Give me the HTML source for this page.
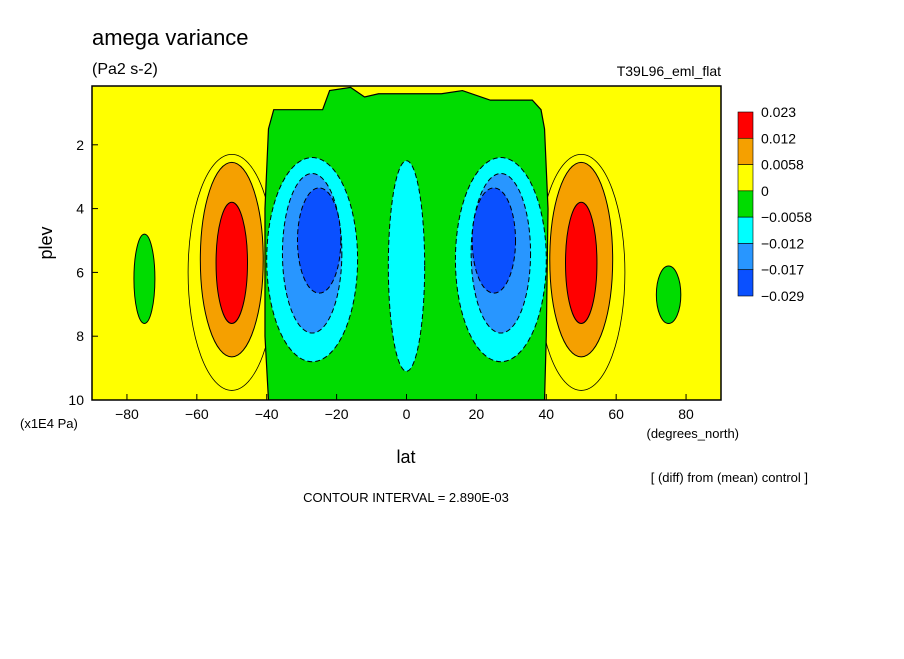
<!DOCTYPE html>
<html><head><meta charset="utf-8">
<style>
body{margin:0;background:#fff;}
svg text{font-family:"Liberation Sans",sans-serif;}
</style></head>
<body>
<svg id="chart" width="904" height="654" viewBox="0 0 904 654">
<defs><clipPath id="plotclip"><rect x="92" y="86" width="629" height="314"/></clipPath></defs>
<text x="92" y="45" font-size="22">amega variance</text>
<text x="92" y="74" font-size="16">(Pa2 s-2)</text>
<text x="721" y="76" font-size="14" text-anchor="end">T39L96_eml_flat</text>
<rect x="92" y="86" width="629" height="314" fill="#ffff00"/>
<g id="marks" clip-path="url(#plotclip)"></g>
<rect x="92" y="86" width="629" height="314" fill="none" stroke="#000" stroke-width="1.5"/>
<g id="axes"></g>
<text x="20" y="428" font-size="13">(x1E4 Pa)</text>
<text x="739" y="438" font-size="13" text-anchor="end">(degrees_north)</text>
<text x="406" y="463" font-size="18" text-anchor="middle">lat</text>
<text x="52" y="243" font-size="18" text-anchor="middle" transform="rotate(-90 52 243)">plev</text>
<text x="808" y="482" font-size="13" text-anchor="end">[ (diff) from (mean) control ]</text>
<text x="406" y="502" font-size="13" text-anchor="middle">CONTOUR INTERVAL = 2.890E-03</text>
<g id="legend"></g>
</svg>
<script>
const NS="http://www.w3.org/2000/svg";
const levelColors=["#ff0000","#f5a000","#ffff00","#00dc00","#00ffff","#2896ff","#0a50ff"];
const legendLabels=["0.023","0.012","0.0058","0","\u22120.0058","\u22120.012","\u22120.017","\u22120.029"];
const xTicks=[-80,-60,-40,-20,0,20,40,60,80];
const yTicks=[2,4,6,8,10];
// green region outline (lat, plev)
const greenLat=[-39.5,-40.5,-40.5,-39.5,-38,-24,-22,-16,-12,-8,4,10,16,24,36,38.5,39.5,40.5,40,39.5];
const greenPlev=[10,8,4,1.5,0.9,0.9,0.3,0.2,0.5,0.4,0.4,0.4,0.3,0.6,0.6,0.9,1.5,4,8,10];
// elliptical contour regions
const blobLat=[-75,75,-27,27,-27,27,-25,25,0,-50,50,-50,50];
const blobPlev=[6.2,6.7,5.6,5.6,5.4,5.4,5.0,5.0,5.8,5.6,5.6,5.7,5.7];
const blobLatHalf=[3,3.5,13,13,8.5,8.5,6.2,6.2,5.2,9,9,4.5,4.5];
const blobPlevHalf=[1.4,0.9,3.2,3.2,2.5,2.5,1.65,1.65,3.3,3.05,3.05,1.9,1.9];
const blobLevel=[3,3,4,4,5,5,6,6,4,1,1,0,0];
const x=lat=>92+(lat+90)/180*629;
const y=p=>400-(10-p)*31.9;
const marks=document.getElementById('marks');
[-50,50].forEach(c=>{
 const e=document.createElementNS(NS,'ellipse');
 e.setAttribute('cx',x(c));e.setAttribute('cy',y(6.0));
 e.setAttribute('rx',(12.5/180)*629);e.setAttribute('ry',3.7*31.9);
 e.setAttribute('fill','none');e.setAttribute('stroke','#000');e.setAttribute('stroke-width','0.8');
 
 
 marks.appendChild(e);
});
const poly=document.createElementNS(NS,'polygon');
poly.setAttribute('points',greenLat.map((l,i)=>x(l)+','+y(greenPlev[i])).join(' '));
poly.setAttribute('fill',levelColors[3]);poly.setAttribute('stroke','#000');poly.setAttribute('stroke-width','1.2');


marks.appendChild(poly);
blobLat.forEach((l,i)=>{
 const e=document.createElementNS(NS,'ellipse');
 e.setAttribute('cx',x(l));e.setAttribute('cy',y(blobPlev[i]));
 e.setAttribute('rx',blobLatHalf[i]/180*629);e.setAttribute('ry',blobPlevHalf[i]*31.9);
 e.setAttribute('fill',levelColors[blobLevel[i]]);
 e.setAttribute('stroke','#000');e.setAttribute('stroke-width','1');
 if(blobLevel[i]>=4)e.setAttribute('stroke-dasharray','5,3');
 
 
 marks.appendChild(e);
});
const axes=document.getElementById('axes');
xTicks.forEach(t=>{
 const ln=document.createElementNS(NS,'line');
 ln.setAttribute('x1',x(t));ln.setAttribute('x2',x(t));ln.setAttribute('y1',400);ln.setAttribute('y2',394);ln.setAttribute('stroke','#000');
 
 
 axes.appendChild(ln);
 const tx=document.createElementNS(NS,'text');
 tx.setAttribute('x',x(t));tx.setAttribute('y',419);tx.setAttribute('font-size','14');tx.setAttribute('text-anchor','middle');
 tx.textContent=t<0?'\u2212'+(-t):String(t);
 
 
 axes.appendChild(tx);
});
yTicks.forEach(t=>{
 const ln=document.createElementNS(NS,'line');
 ln.setAttribute('x1',92);ln.setAttribute('x2',98);ln.setAttribute('y1',y(t));ln.setAttribute('y2',y(t));ln.setAttribute('stroke','#000');
 
 
 axes.appendChild(ln);
 const tx=document.createElementNS(NS,'text');
 tx.setAttribute('x',84);tx.setAttribute('y',y(t)+5);tx.setAttribute('font-size','14');tx.setAttribute('text-anchor','end');
 tx.textContent=String(t);
 
 
 axes.appendChild(tx);
});
const legend=document.getElementById('legend');
const boxH=(296-112)/levelColors.length;
levelColors.forEach((c,i)=>{
 const r=document.createElementNS(NS,'rect');
 r.setAttribute('x',738);r.setAttribute('y',112+i*boxH);r.setAttribute('width',15);r.setAttribute('height',boxH);
 r.setAttribute('fill',c);r.setAttribute('stroke','#000');r.setAttribute('stroke-width','0.6');
 
 
 legend.appendChild(r);
});
legendLabels.forEach((s,i)=>{
 const tx=document.createElementNS(NS,'text');
 tx.setAttribute('x',761);tx.setAttribute('y',112+i*boxH+5);tx.setAttribute('font-size','14');
 tx.textContent=s;
 
 
 legend.appendChild(tx);
});
</script>
</body></html>
